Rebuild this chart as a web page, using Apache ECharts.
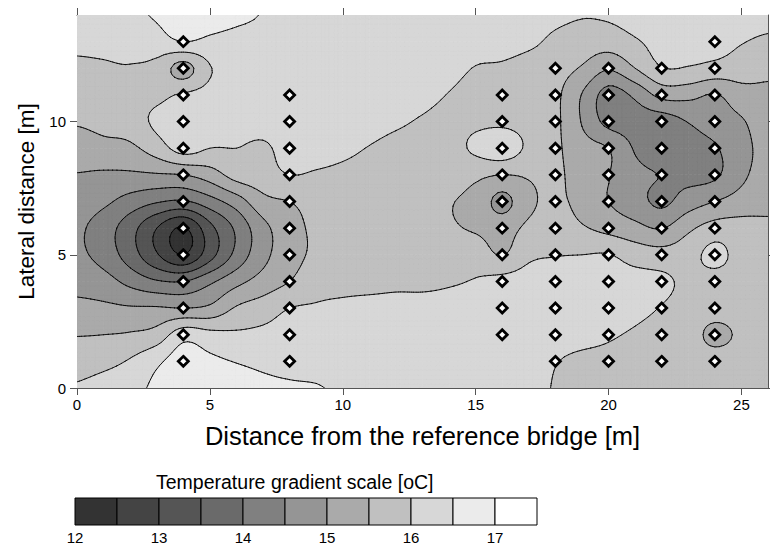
<!DOCTYPE html>
<html>
<head>
<meta charset="utf-8">
<script src="https://cdn.jsdelivr.net/npm/echarts@6/dist/echarts.min.js"></script>
<style>
  html, body { margin: 0; padding: 0; background: #ffffff; }
  #chart { width: 770px; height: 550px; }
</style>
</head>
<body>
<div id="chart"></div>
<script>
// Survey grid: distance along the bridge deck and lateral offset, both in metres
const distance = [0, 1, 2, 3, 4, 5, 6, 7, 8, 9, 10, 11, 12, 13, 14, 15, 16, 17, 18, 19, 20, 21, 22, 23, 24, 25, 26];
const lateral = [14, 13, 12, 11, 10, 9, 8, 7, 6, 5, 4, 3, 2, 1, 0];

// Surface temperature (oC) at each grid node; one row per lateral offset, listed from 14 m down to 0 m
const temperature = [
  [16.2, 16.3, 16.42, 16.55, 16.8, 16.75, 16.6, 16.48, 16.35, 16.3, 16.3, 16.3, 16.3, 16.3, 16.3, 16.3, 16.3, 16.25, 16.1, 16.02, 16.05, 16.15, 16.2, 16.25, 16.3, 16.3, 16.2],
  [16.08, 16.12, 16.2, 16.3, 16.5, 16.4, 16.35, 16.35, 16.3, 16.3, 16.3, 16.3, 16.3, 16.3, 16.25, 16.2, 16.2, 16.1, 15.9, 15.8, 15.75, 15.95, 16.15, 16.12, 16.2, 16.03, 15.9],
  [15.93, 15.95, 15.97, 15.85, 15.3, 15.97, 16.2, 16.3, 16.3, 16.3, 16.3, 16.3, 16.3, 16.3, 16.15, 15.98, 15.93, 15.8, 15.7, 15.45, 15.05, 15.5, 15.98, 15.97, 15.85, 15.75, 15.62],
  [15.8, 15.85, 15.85, 15.9, 16.05, 16.15, 16.25, 16.25, 16.3, 16.3, 16.3, 16.3, 16.25, 16.15, 15.98, 15.85, 15.75, 15.7, 15.6, 14.98, 14.3, 14.6, 15.15, 15.15, 14.97, 15.3, 15.4],
  [15.55, 15.65, 15.75, 16.1, 16.25, 16.25, 16.2, 16.2, 16.25, 16.3, 16.25, 16.2, 16.08, 15.95, 15.85, 15.9, 15.9, 15.8, 15.6, 14.97, 14.35, 14.3, 14.25, 14.52, 14.75, 14.95, 15.3],
  [15.25, 15.35, 15.4, 15.75, 16.2, 16.0, 16.0, 15.92, 16.2, 16.2, 16.1, 15.98, 15.85, 15.8, 15.8, 16.1, 16.3, 15.9, 15.6, 15.2, 15.0, 14.45, 14.2, 14.3, 14.45, 14.85, 15.15],
  [14.98, 14.93, 14.92, 14.95, 15.0, 15.25, 15.7, 15.8, 16.0, 15.95, 15.9, 15.85, 15.78, 15.72, 15.7, 15.6, 15.5, 15.55, 15.6, 15.25, 15.02, 14.65, 14.48, 14.35, 14.42, 14.9, 15.2],
  [14.75, 14.6, 14.3, 14.05, 13.95, 14.3, 14.75, 15.35, 15.5, 15.7, 15.75, 15.75, 15.72, 15.65, 15.53, 15.35, 14.85, 15.4, 15.58, 15.35, 15.0, 14.7, 14.4, 14.75, 15.0, 15.2, 15.3],
  [14.58, 14.25, 13.7, 13.0, 12.45, 13.35, 14.1, 14.85, 15.3, 15.6, 15.7, 15.72, 15.7, 15.65, 15.55, 15.45, 15.3, 15.6, 15.7, 15.55, 15.35, 15.15, 14.98, 15.4, 15.7, 15.7, 15.65],
  [14.6, 14.3, 13.75, 13.05, 12.5, 13.3, 14.15, 14.85, 15.3, 15.6, 15.75, 15.75, 15.75, 15.75, 15.7, 15.75, 15.48, 15.9, 15.98, 16.0, 16.02, 15.8, 15.7, 15.8, 16.15, 15.8, 15.75],
  [14.85, 14.7, 14.35, 14.05, 14.0, 14.4, 14.85, 15.2, 15.5, 15.8, 15.85, 15.85, 15.9, 15.9, 15.95, 16.03, 16.15, 16.2, 16.2, 16.2, 16.15, 16.15, 16.1, 15.88, 15.8, 15.8, 15.8],
  [15.12, 15.1, 15.05, 15.05, 15.0, 15.1, 15.55, 15.75, 16.0, 16.05, 16.1, 16.15, 16.15, 16.15, 16.15, 16.15, 16.2, 16.25, 16.25, 16.25, 16.2, 16.1, 15.98, 15.8, 15.75, 15.75, 15.75],
  [15.48, 15.5, 15.55, 15.7, 16.3, 16.15, 16.08, 16.12, 16.2, 16.25, 16.25, 16.25, 16.25, 16.25, 16.25, 16.25, 16.2, 16.25, 16.2, 16.15, 16.05, 15.95, 15.85, 15.75, 15.35, 15.6, 15.7],
  [15.75, 15.85, 16.05, 16.4, 16.75, 16.6, 16.48, 16.4, 16.35, 16.35, 16.35, 16.35, 16.3, 16.3, 16.3, 16.3, 16.25, 16.2, 16.02, 15.9, 15.88, 15.82, 15.8, 15.75, 15.75, 15.75, 15.75],
  [16.05, 16.2, 16.35, 16.6, 16.85, 16.75, 16.7, 16.6, 16.55, 16.52, 16.45, 16.4, 16.35, 16.3, 16.3, 16.3, 16.25, 16.15, 15.97, 15.85, 15.82, 15.8, 15.78, 15.75, 15.8, 15.8, 15.8]
];

// Thermocouple positions: one column of sensors per station along the bridge
const sensorDistance = [4, 8, 16, 18, 20, 22, 24];
const sensorFirst = [1, 1, 2, 1, 1, 1, 1];
const sensorLast = [13, 11, 11, 12, 12, 12, 13];

// Temperature classes (0.5 oC wide) and their grey shades
const scaleEdges = [12, 12.5, 13, 13.5, 14, 14.5, 15, 15.5, 16, 16.5, 17, 17.5];
const scaleGreys = ['#333333', '#444444', '#555555', '#6a6a6a', '#808080', '#959595', '#aaaaaa', '#c0c0c0', '#d7d7d7', '#ebebeb', '#ffffff'];
const scaleTicks = [12, 13, 14, 15, 16, 17];

const distanceTicks = [0, 5, 10, 15, 20, 25];
const lateralTicks = [0, 5, 10];

const FONT = '"Liberation Sans", Arial, Helvetica, sans-serif';
const SUB = 6; // sub-steps per grid cell for the smooth surface

const latAsc = lateral.slice().reverse();
const nx = distance.length;
const ny = latAsc.length;

function nodeValue(i, j) {
  i = Math.max(0, Math.min(nx - 1, i));
  j = Math.max(0, Math.min(ny - 1, j));
  return temperature[ny - 1 - j][i];
}

function catmull(p0, p1, p2, p3, t) {
  return 0.5 * (2 * p1 + (p2 - p0) * t + (2 * p0 - 5 * p1 + 4 * p2 - p3) * t * t + (3 * p1 - p0 - 3 * p2 + p3) * t * t * t);
}

const sampleCache = {};
function cellSamples(i, j) {
  const key = i + '_' + j;
  if (sampleCache[key]) return sampleCache[key];
  const P = [];
  for (let b = -1; b <= 2; b++) {
    const r = [];
    for (let a = -1; a <= 2; a++) r.push(nodeValue(i + a, j + b));
    P.push(r);
  }
  const out = [];
  for (let sb = 0; sb <= SUB; sb++) {
    const v = sb / SUB;
    const row = [];
    for (let sa = 0; sa <= SUB; sa++) {
      const u = sa / SUB;
      const col = P.map(r => catmull(r[0], r[1], r[2], r[3], u));
      row.push(catmull(col[0], col[1], col[2], col[3], v));
    }
    out.push(row);
  }
  sampleCache[key] = out;
  return out;
}

function bandOf(v) {
  for (let k = 0; k < scaleEdges.length - 2; k++) {
    if (v < scaleEdges[k + 1]) return k;
  }
  return scaleEdges.length - 2;
}

function clipPoly(poly, t, keepAbove) {
  const out = [];
  for (let q = 0; q < poly.length; q++) {
    const A = poly[q], B = poly[(q + 1) % poly.length];
    const inA = keepAbove ? A[2] >= t : A[2] < t;
    const inB = keepAbove ? B[2] >= t : B[2] < t;
    if (inA) out.push(A);
    if (inA !== inB) {
      const f = (t - A[2]) / (B[2] - A[2]);
      out.push([A[0] + (B[0] - A[0]) * f, A[1] + (B[1] - A[1]) * f, t]);
    }
  }
  return out;
}

function polyPath(poly) {
  let d = 'M' + poly[0][0].toFixed(2) + ' ' + poly[0][1].toFixed(2);
  for (let q = 1; q < poly.length; q++) d += 'L' + poly[q][0].toFixed(2) + ' ' + poly[q][1].toFixed(2);
  return d + 'Z';
}

function cellTriangles(params, api) {
  const i = api.value(2), j = api.value(3);
  const s = cellSamples(i, j);
  const p0 = api.coord([distance[i], latAsc[j]]);
  const p1 = api.coord([distance[i + 1], latAsc[j + 1]]);
  const X = a => p0[0] + (p1[0] - p0[0]) * a / SUB;
  const Y = b => p0[1] + (p1[1] - p0[1]) * b / SUB;
  const tris = [];
  for (let b = 0; b < SUB; b++) {
    for (let a = 0; a < SUB; a++) {
      const c00 = [X(a), Y(b), s[b][a]];
      const c10 = [X(a + 1), Y(b), s[b][a + 1]];
      const c11 = [X(a + 1), Y(b + 1), s[b + 1][a + 1]];
      const c01 = [X(a), Y(b + 1), s[b + 1][a]];
      tris.push([c00, c10, c11], [c00, c11, c01]);
    }
  }
  return tris;
}

// Filled temperature classes for one grid cell
function renderBands(params, api) {
  const tris = cellTriangles(params, api);
  const paths = scaleGreys.map(() => '');
  tris.forEach(tri => {
    const vals = tri.map(p => p[2]);
    const k0 = bandOf(Math.min.apply(null, vals));
    const k1 = bandOf(Math.max.apply(null, vals));
    if (k0 === k1) {
      paths[k0] += polyPath(tri);
      return;
    }
    for (let k = k0; k <= k1; k++) {
      let poly = tri;
      if (k > 0) poly = clipPoly(poly, scaleEdges[k], true);
      if (poly.length >= 3 && k < scaleEdges.length - 2) poly = clipPoly(poly, scaleEdges[k + 1], false);
      if (poly.length >= 3) paths[k] += polyPath(poly);
    }
  });
  const children = [];
  paths.forEach((d, k) => {
    if (d) {
      children.push({
        type: 'path',
        shape: { pathData: d },
        style: { fill: scaleGreys[k], stroke: scaleGreys[k], lineWidth: 0.7 }
      });
    }
  });
  return { type: 'group', children: children };
}

// Isotherms at every class boundary for one grid cell
function renderIsotherms(params, api) {
  const tris = cellTriangles(params, api);
  const levels = scaleEdges.slice(1, -1);
  let d = '';
  tris.forEach(tri => {
    levels.forEach(L => {
      const pts = [];
      for (let q = 0; q < 3; q++) {
        const A = tri[q], B = tri[(q + 1) % 3];
        if ((A[2] >= L) !== (B[2] >= L)) {
          const f = (L - A[2]) / (B[2] - A[2]);
          pts.push([A[0] + (B[0] - A[0]) * f, A[1] + (B[1] - A[1]) * f]);
        }
      }
      if (pts.length === 2) {
        d += 'M' + pts[0][0].toFixed(2) + ' ' + pts[0][1].toFixed(2) + 'L' + pts[1][0].toFixed(2) + ' ' + pts[1][1].toFixed(2);
      }
    });
  });
  if (!d) return null;
  return {
    type: 'path',
    shape: { pathData: d },
    style: { fill: 'none', stroke: '#000000', lineWidth: 0.9, lineCap: 'round' }
  };
}

const cells = [];
for (let j = 0; j < ny - 1; j++) {
  for (let i = 0; i < nx - 1; i++) cells.push([distance[i], latAsc[j], i, j]);
}

const sensors = [];
sensorDistance.forEach((x, c) => {
  for (let y = sensorFirst[c]; y <= sensorLast[c]; y++) sensors.push([x, y]);
});

const scaleItems = scaleGreys.map((g, k) => [scaleEdges[k], scaleEdges[k + 1], k]);

const axisLineStyle = { color: '#555555', width: 1 };

const chart = echarts.init(document.getElementById('chart'), null, { renderer: 'svg' });
chart.setOption({
  animation: false,
  backgroundColor: '#ffffff',
  textStyle: { fontFamily: FONT, color: '#000000' },
  title: {
    text: 'Temperature gradient scale [oC]',
    left: 156,
    top: 472,
    padding: 0,
    textStyle: { fontFamily: FONT, fontSize: 19.5, fontWeight: 'normal', color: '#000000' }
  },
  grid: [
    { left: 77, right: 2, top: 15, bottom: 162 },
    { left: 75, width: 462, top: 498, height: 27 }
  ],
  xAxis: [
    {
      type: 'value', gridIndex: 0, position: 'bottom', min: 0, max: 26, interval: 5,
      name: 'Distance from the reference bridge [m]', nameLocation: 'middle', nameGap: 35,
      nameTextStyle: { fontFamily: FONT, fontSize: 25.5, color: '#000000' },
      axisLine: { show: true, onZero: false, lineStyle: axisLineStyle },
      axisTick: { show: true, inside: false, length: 7, lineStyle: axisLineStyle, customValues: distanceTicks },
      axisLabel: { fontFamily: FONT, fontSize: 15, color: '#000000', margin: 9, customValues: distanceTicks },
      splitLine: { show: false }
    },
    {
      type: 'value', gridIndex: 0, position: 'top', min: 0, max: 26, interval: 5,
      axisLine: { show: true, onZero: false, lineStyle: axisLineStyle },
      axisTick: { show: true, inside: false, length: 7, lineStyle: axisLineStyle, customValues: distanceTicks },
      axisLabel: { show: false },
      splitLine: { show: false }
    },
    {
      type: 'value', gridIndex: 1, min: 12, max: 17.5, interval: 1,
      axisLine: { show: false },
      axisTick: { show: false },
      axisLabel: { fontFamily: FONT, fontSize: 15, color: '#000000', margin: 5, customValues: scaleTicks },
      splitLine: { show: false }
    }
  ],
  yAxis: [
    {
      type: 'value', gridIndex: 0, position: 'left', min: 0, max: 14, interval: 5,
      name: 'Lateral distance [m]', nameLocation: 'middle', nameGap: 36,
      nameTextStyle: { fontFamily: FONT, fontSize: 22.5, color: '#000000' },
      axisLine: { show: true, onZero: false, lineStyle: axisLineStyle },
      axisTick: { show: true, inside: false, length: 7, lineStyle: axisLineStyle, customValues: lateralTicks },
      axisLabel: { fontFamily: FONT, fontSize: 15, color: '#000000', margin: 11, customValues: lateralTicks },
      splitLine: { show: false }
    },
    {
      type: 'value', gridIndex: 0, position: 'right', min: 0, max: 14, interval: 5,
      axisLine: { show: true, onZero: false, lineStyle: axisLineStyle },
      axisTick: { show: true, inside: false, length: 7, lineStyle: axisLineStyle, customValues: lateralTicks },
      axisLabel: { show: false },
      splitLine: { show: false }
    },
    {
      type: 'value', gridIndex: 1, min: 0, max: 1, show: false
    }
  ],
  series: [
    {
      name: 'bands', type: 'custom', xAxisIndex: 0, yAxisIndex: 0,
      renderItem: renderBands, data: cells, clip: true, silent: true, z: 1
    },
    {
      name: 'isotherms', type: 'custom', xAxisIndex: 0, yAxisIndex: 0,
      renderItem: renderIsotherms, data: cells, clip: true, silent: true, z: 2
    },
    {
      name: 'sensors', type: 'scatter', xAxisIndex: 0, yAxisIndex: 0,
      symbol: 'diamond', symbolSize: 10, data: sensors, z: 3, silent: true,
      itemStyle: { color: '#ffffff', borderColor: '#000000', borderWidth: 2.8, opacity: 1 }
    },
    {
      name: 'scale', type: 'custom', xAxisIndex: 2, yAxisIndex: 2, silent: true,
      data: scaleItems,
      renderItem: function (params, api) {
        const a = api.coord([api.value(0), 0]);
        const b = api.coord([api.value(1), 1]);
        return {
          type: 'rect',
          shape: { x: a[0], y: b[1], width: b[0] - a[0], height: a[1] - b[1] },
          style: { fill: scaleGreys[api.value(2)], stroke: '#000000', lineWidth: 1 }
        };
      }
    }
  ]
});
</script>
</body>
</html>
